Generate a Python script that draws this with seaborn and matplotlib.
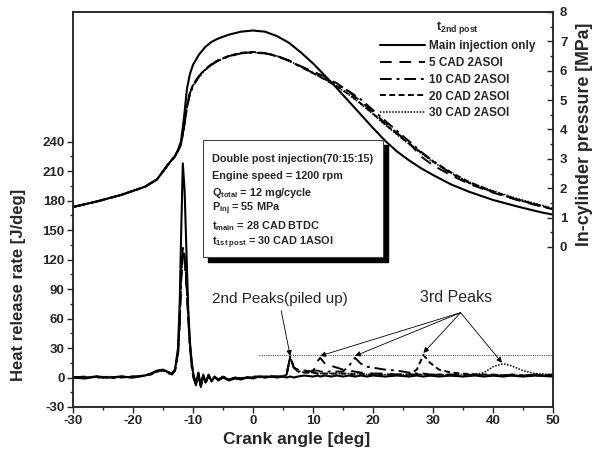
import numpy as np
import pandas as pd
import seaborn as sns
import matplotlib.pyplot as plt
from matplotlib.patches import Rectangle
from matplotlib.ticker import MultipleLocator, FixedLocator

# crank angle grid for heat release rate [deg]
hrr_cad = [-30, -28, -26, -24, -22, -20, -18, -17, -16, -15,
           -14, -13.5, -13, -12.5, -12.2, -12, -11.7, -11.4, -11.1, -10.8,
           -10.5, -10.2, -9.9, -9.5, -9.1, -8.7, -8.3, -7.9, -7.4, -6.9,
           -6.4, -5.8, -5, -4, -3, -2, -1, 0, 1, 2,
           3, 4, 5, 5.6, 6.2, 6.8, 7.5, 8.5, 10, 10.8,
           11.2, 12, 13, 14, 15, 16, 17, 18, 19, 20,
           22, 24, 26, 27.3, 28.4, 29.5, 31, 33, 35, 37,
           38.5, 40, 41.7, 43, 45, 47, 50]

hrr_main = [0, -1, 1, 0, 1, 0, 2, 4, 7, 8,
            5, 4, 8, 30, 80, 140, 218, 190, 130, 70,
            35, 15, 2, -6, 5, -9, 3, -5, 2, -4,
            1, -3, 0, -3, -1, -2, 0, -1, 1, 0,
            1, 0, 1, 0, 1, 0, 1, 2, 1, 2,
            1, 2, 1, 2, 1, 2, 1, 2, 1, 2,
            1, 2, 1, 2, 1, 2, 1, 2, 1, 2,
            1, 2, 1, 2, 1, 2, 1]
hrr_5 = [0, 0, 1, -1, 1, 1, 2, 4, 6, 8,
         5, 3, 7, 25, 60, 100, 128, 122, 98, 62,
         32, 12, 0, -8, 4, -10, 2, -6, 3, -3,
         1, -2, 0, -2, 0, -1, 1, 0, 1, 1,
         1, 1, 1, 3, 21, 10, 7, 7, 6, 17,
         20, 14, 12, 10, 8, 7, 6, 5, 5, 4,
         4, 3, 3, 3, 3, 2, 3, 2, 2, 3,
         2, 2, 3, 2, 2, 3, 2]
hrr_10 = [0, 1, 0, 0, 1, 0, 2, 4, 7, 7,
          4, 4, 7, 22, 55, 95, 125, 120, 96, 60,
          30, 10, -1, -7, 3, -9, 2, -5, 2, -4,
          0, -2, 1, -2, 0, -1, 0, 1, 1, 0,
          1, 1, 1, 3, 21, 10, 8, 7, 7, 7,
          6, 6, 6, 6, 6, 12, 20, 14, 11, 10,
          8, 7, 5, 4, 4, 3, 3, 3, 2, 3,
          2, 2, 2, 3, 2, 2, 2]
hrr_20 = [0, 0, 1, 0, 0, 1, 2, 3, 6, 8,
          5, 4, 8, 26, 62, 105, 132, 125, 100, 64,
          33, 13, 1, -7, 4, -9, 2, -5, 2, -3,
          1, -2, 0, -2, -1, -1, 0, 0, 1, 1,
          1, 1, 1, 3, 21, 10, 6, 5, 5, 4,
          4, 4, 4, 4, 4, 4, 3, 4, 3, 3,
          3, 3, 3, 8, 23, 15, 8, 5, 4, 3,
          3, 3, 2, 3, 2, 2, 3]
hrr_30 = [0, 1, 0, 1, 0, 0, 2, 4, 6, 7,
          4, 4, 7, 24, 58, 98, 126, 121, 97, 61,
          31, 11, 0, -8, 3, -10, 2, -6, 2, -3,
          0, -2, 1, -2, 0, -1, 0, 1, 0, 1,
          1, 1, 1, 3, 21, 10, 7, 5, 5, 4,
          4, 4, 4, 4, 4, 4, 4, 4, 3, 3,
          3, 3, 3, 3, 3, 3, 3, 3, 3, 3,
          5, 11, 14, 12, 7, 4, 3]

# crank angle grid for in-cylinder pressure [deg]
p_cad = [-30, -26, -22, -18, -16, -14, -13, -12.5, -12, -11.5,
         -11, -10.5, -10, -9, -8, -7, -6, -4, -2, 0,
         2, 4, 6, 8, 10, 12, 14, 16, 18, 20,
         22, 24, 26, 28, 30, 33, 36, 40, 44, 48,
         50]
p_main = [1.36, 1.55, 1.77, 2.05, 2.3, 2.85, 3.1, 3.3, 3.6, 4.4,
          5.4, 5.9, 6.2, 6.55, 6.8, 6.97, 7.08, 7.23, 7.33, 7.37,
          7.33, 7.18, 6.95, 6.62, 6.25, 5.83, 5.4, 4.95, 4.5, 4.05,
          3.62, 3.25, 2.95, 2.68, 2.45, 2.13, 1.88, 1.6, 1.38, 1.18,
          1.1]
p_5 = [1.36, 1.55, 1.77, 2.05, 2.3, 2.85, 3.08, 3.28, 3.5, 4.1,
       4.8, 5.25, 5.5, 5.82, 6.03, 6.2, 6.33, 6.5, 6.6, 6.63,
       6.6, 6.5, 6.35, 6.15, 5.97, 5.8, 5.57, 5.28, 4.95, 4.6,
       4.22, 3.88, 3.55, 3.08, 2.78, 2.44, 2.15, 1.85, 1.6, 1.38,
       1.28]
p_10 = [1.36, 1.55, 1.77, 2.05, 2.3, 2.84, 3.07, 3.27, 3.48, 4.05,
        4.75, 5.2, 5.47, 5.8, 6.02, 6.19, 6.32, 6.49, 6.59, 6.62,
        6.59, 6.49, 6.34, 6.13, 5.93, 5.73, 5.52, 5.3, 5.02, 4.66,
        4.3, 3.95, 3.6, 3.24, 2.92, 2.5, 2.18, 1.87, 1.61, 1.39,
        1.28]
p_20 = [1.36, 1.55, 1.77, 2.05, 2.3, 2.86, 3.09, 3.29, 3.52, 4.12,
        4.82, 5.27, 5.52, 5.83, 6.04, 6.21, 6.34, 6.51, 6.61, 6.64,
        6.6, 6.5, 6.34, 6.13, 5.92, 5.7, 5.47, 5.2, 4.88, 4.54,
        4.18, 3.85, 3.52, 3.22, 2.92, 2.54, 2.21, 1.89, 1.62, 1.4,
        1.29]
p_30 = [1.36, 1.55, 1.77, 2.05, 2.3, 2.85, 3.08, 3.28, 3.5, 4.08,
        4.78, 5.23, 5.49, 5.81, 6.02, 6.2, 6.33, 6.5, 6.6, 6.63,
        6.6, 6.5, 6.34, 6.13, 5.92, 5.7, 5.46, 5.18, 4.86, 4.52,
        4.16, 3.82, 3.5, 3.19, 2.89, 2.52, 2.21, 1.91, 1.65, 1.43,
        1.31]

labels = ['Main injection only', '5 CAD 2ASOI', '10 CAD 2ASOI',
          '20 CAD 2ASOI', '30 CAD 2ASOI']
hrr_series = [hrr_main, hrr_5, hrr_10, hrr_20, hrr_30]
p_series = [p_main, p_5, p_10, p_20, p_30]
line_styles = ['-', (0, (6, 4)), (0, (6, 2.5, 1.5, 2.5)), (0, (3, 1.8)), (0, (1, 1))]
line_widths = [1.5, 1.4, 1.4, 1.4, 1.1]

# 2nd and 3rd peak positions for annotations
peak2 = (6.2, 22)
peak3_cad = [11.2, 17, 28.4, 41.5]
peak3_hrr = [21, 21, 24, 14]

sns.set_style('ticks')
plt.rcParams['font.family'] = ['Liberation Sans', 'DejaVu Sans']
plt.rcParams['font.weight'] = 'bold'
plt.rcParams['axes.labelweight'] = 'bold'
plt.rcParams['axes.unicode_minus'] = False
plt.rcParams['mathtext.fontset'] = 'custom'
plt.rcParams['mathtext.rm'] = 'Liberation Sans:bold'
plt.rcParams['mathtext.it'] = 'Liberation Sans:bold'
plt.rcParams['mathtext.bf'] = 'Liberation Sans:bold'

fig = plt.figure(figsize=(5.97, 4.58), dpi=100)
ax = fig.add_axes([0.1223, 0.1114, 0.804, 0.8624])
ax2 = ax.twinx()

df_hrr = pd.DataFrame({'cad': hrr_cad})
df_p = pd.DataFrame({'cad': p_cad})
for lab, h, p, ls, lw in zip(labels, hrr_series, p_series, line_styles, line_widths):
    df_hrr[lab] = h
    df_p[lab] = p
    sns.lineplot(data=df_hrr, x='cad', y=lab, ax=ax, color='black', lw=lw, linestyle=ls)
    sns.lineplot(data=df_p, x='cad', y=lab, ax=ax2, color='black', lw=lw, linestyle=ls, label=lab)

# dotted reference line at the peak level
ax.hlines(22.5, 1, 50, colors='#555555', linestyles=(0, (1, 1)), lw=0.8)

ax.set_xlim(-30, 50)
ax.set_ylim(-30, 372)
ax.set_xticks(range(-30, 51, 10))
ax.xaxis.set_minor_locator(MultipleLocator(5))
ax.set_yticks(range(-30, 241, 30))
ax.yaxis.set_minor_locator(FixedLocator(range(-15, 240, 30)))
ax.tick_params(axis='both', which='major', direction='out', length=4, width=1,
               labelsize=9.5, pad=2)
ax.tick_params(axis='both', which='minor', direction='out', length=2.5, width=1)

ax2.set_ylim(-5.45, 8)
ax2.set_yticks(range(0, 9))
ax2.yaxis.set_minor_locator(FixedLocator(np.arange(0.5, 8, 1)))
ax2.tick_params(axis='y', which='major', direction='in', length=4, width=1,
                labelsize=9.5, pad=5)
ax2.tick_params(axis='y', which='minor', direction='in', length=2.5, width=1)

for a in (ax, ax2):
    for s in a.spines.values():
        s.set_linewidth(1.1)
        s.set_visible(True)

ax.set_xlabel('Crank angle [deg]', fontsize=12.5)
ax.set_ylabel('Heat release rate [J/deg]', fontsize=12)
ax2.set_ylabel('In-cylinder pressure [MPa]', fontsize=12.8)
ax.xaxis.set_label_coords(0.465, -0.063)
ax.yaxis.set_label_coords(-0.098, 0.31)
ax2.yaxis.set_label_coords(1.048, 0.69)

# info box with shadow
ax2.add_patch(Rectangle((0.281, 0.367), 0.375, 0.296, transform=ax2.transAxes,
                        facecolor='black', edgecolor='black', zorder=5))
ax2.add_patch(Rectangle((0.271, 0.380), 0.375, 0.296, transform=ax2.transAxes,
                        facecolor='white', edgecolor='#444444', lw=0.8, zorder=6))
box_lines = ['Double post injection(70:15:15)',
             'Engine speed = 1200 rpm',
             r'Q$_{\mathrm{total}}$ = 12 mg/cycle',
             r'P$_{\mathrm{inj}}$ = 55 MPa',
             r't$_{\mathrm{main}}$ = 28 CAD BTDC',
             r't$_{\mathrm{1st\ post}}$ = 30 CAD 1ASOI']
for i, t in enumerate(box_lines):
    ax2.text(0.290, 0.628 - i * 0.0425, t, transform=ax2.transAxes, fontsize=7.8,
             fontweight='bold', va='center', ha='left', zorder=7)

# peak annotations
ax.text(-6.9, 80, '2nd Peaks(piled up)', fontsize=11, fontweight='normal',
        va='center', ha='left')
ax.text(27.8, 81, '3rd Peaks', fontsize=11.5, fontweight='normal', va='center', ha='left')
arrow = dict(arrowstyle='-|>', color='black', lw=0.6, mutation_scale=8, shrinkA=0, shrinkB=0)
ax.annotate('', xy=peak2, xytext=(4.7, 68), arrowprops=arrow)
for cx, cy in zip(peak3_cad, peak3_hrr):
    ax.annotate('', xy=(cx, cy + 1), xytext=(34.6, 66), arrowprops=arrow)

leg = ax2.legend(loc='upper right', bbox_to_anchor=(0.985, 1.01), frameon=False,
                 title=r't$_{\mathrm{2nd\ post}}$', fontsize=8.5, title_fontsize=9,
                 handlelength=3.8, handletextpad=0.3, labelspacing=0.4)
for txt in leg.get_texts():
    txt.set_fontweight('bold')

fig.savefig('out.png', dpi=100)
